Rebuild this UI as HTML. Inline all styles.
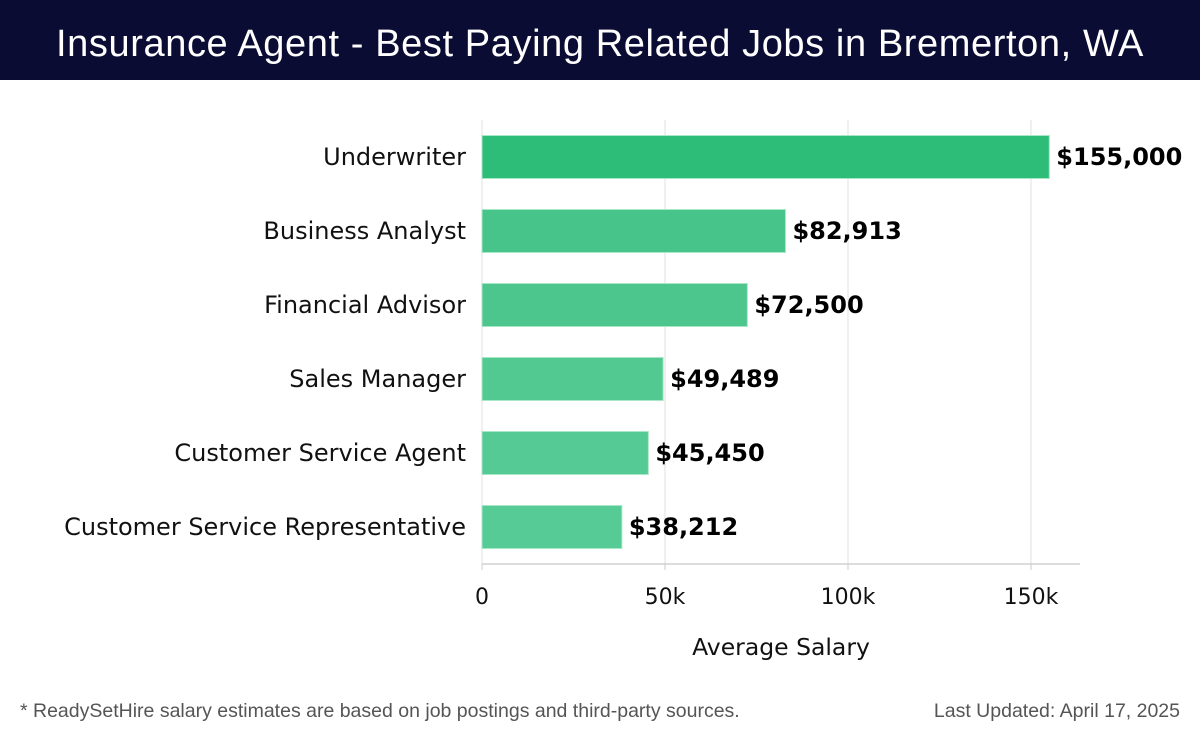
<!DOCTYPE html>
<html><head><meta charset="utf-8"><style>
body{margin:0;width:1200px;height:740px;background:#fff;overflow:hidden;font-family:"DejaVu Sans","Liberation Sans",sans-serif}
#hdr{position:absolute;left:0;top:0;width:1200px;height:80px;background:#0b0c33;color:#fff;font-family:"Liberation Sans",sans-serif;font-size:38px;text-align:center;line-height:88px;letter-spacing:0.6px}
.foot{position:absolute;top:700px;font-family:"Liberation Sans",sans-serif;font-size:19.5px;color:#555}
</style></head><body>
<div id="hdr">Insurance Agent - Best Paying Related Jobs in Bremerton, WA</div>
<svg id="chart" width="1200" height="740" style="position:absolute;left:0;top:0"></svg>
<div class="foot" style="left:20px">* ReadySetHire salary estimates are based on job postings and third-party sources.</div>
<div class="foot" style="right:20px">Last Updated: April 17, 2025</div>
<script>
const categories=["Underwriter","Business Analyst","Financial Advisor","Sales Manager","Customer Service Agent","Customer Service Representative"];
const salaries=[155000,82913,72500,49489,45450,38212];
const valueLabels=["$155,000","$82,913","$72,500","$49,489","$45,450","$38,212"];
const tickValues=[0,50000,100000,150000];
const tickLabels=["0","50k","100k","150k"];
const NS="http://www.w3.org/2000/svg";
const svg=document.getElementById('chart');
const x0=482,pxPer=(848-482)/100000,top0=120,step=74,barH=43,axisY=564;
const xs=v=>x0+v*pxPer;
const yc=i=>top0+37+i*step;
function mk(t,a){const e=document.createElementNS(NS,t);for(const k in a)e.setAttribute(k,a[k]);svg.appendChild(e);return e;}
tickValues.forEach((v,i)=>{
 const g=mk('line',{x1:xs(v),x2:xs(v),y1:top0,y2:axisY,stroke:'#e2e2e2','stroke-width':1});
 
 
 const tk=mk('line',{x1:xs(v),x2:xs(v),y1:axisY,y2:axisY+6,stroke:'#ccc'});
 
 
 const t=mk('text',{x:xs(v),y:604,'text-anchor':'middle','font-size':22,fill:'#111'});
 t.textContent=tickLabels[i];
 
 
});
const ax=mk('line',{x1:x0,x2:1080,y1:axisY,y2:axisY,stroke:'#d0d0d0','stroke-width':1.5});


const cols=["#2dbd78","#47c48a","#4cc68d","#53c992","#55ca94","#57cb95"];
categories.forEach((c,i)=>{
 const y=yc(i);
 const b=mk('rect',{x:x0,y:y-barH/2,width:xs(salaries[i])-x0,height:barH,fill:cols[i],stroke:'#a8e6c6','stroke-width':1});
 
 
 const l=mk('text',{x:466,y:y+8,'text-anchor':'end','font-size':24,fill:'#111'});
 l.textContent=c;
 
 
 const v=mk('text',{x:xs(salaries[i])+7,y:y+8,'font-size':24,'font-weight':'bold',fill:'#000'});
 v.textContent=valueLabels[i];
 
 
});
const at=mk('text',{x:781,y:655,'text-anchor':'middle','font-size':23.5,fill:'#111'});
at.textContent="Average Salary";


</script>
</body></html>
